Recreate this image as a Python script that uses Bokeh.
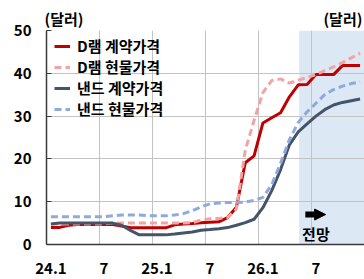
from bokeh.plotting import figure
from bokeh.models import FixedTicker, BoxAnnotation, Label, Arrow, NormalHead
from bokeh.embed import file_html
from bokeh.resources import INLINE

# Monthly data, 24.1 .. 26.12 (36 months), dollars
months = ["24.1", "24.2", "24.3", "24.4", "24.5", "24.6", "24.7", "24.8", "24.9", "24.10", "24.11", "24.12",
          "25.1", "25.2", "25.3", "25.4", "25.5", "25.6", "25.7", "25.8", "25.9", "25.10", "25.11", "25.12",
          "26.1", "26.2", "26.3", "26.4", "26.5", "26.6", "26.7", "26.8", "26.9", "26.10", "26.11", "26.12"]

dram_contract = [4.0, 4.0, 4.5, 4.65, 4.65, 4.65, 4.65, 4.65, 4.3, 3.9, 3.9, 3.9,
                 3.9, 3.9, 4.6, 4.8, 4.9, 5.1, 5.2, 5.3, 6.3, 8.7, 19.1, 20.7,
                 28.4, 29.6, 30.8, 34.5, 37.3, 37.4, 39.7, 39.7, 39.7, 41.8, 41.8, 41.8]
dram_spot = [4.8, 4.8, 4.8, 4.8, 4.8, 4.8, 4.8, 5.0, 5.0, 5.0, 5.0, 5.0,
             5.0, 5.0, 5.0, 5.0, 5.1, 5.7, 6.0, 6.1, 6.3, 8.3, 22.0, 29.0,
             35.5, 38.3, 38.7, 37.7, 38.4, 39.0, 39.7, 40.6, 41.5, 42.5, 43.6, 44.7]
nand_contract = [4.8, 5.0, 5.0, 5.0, 5.0, 5.0, 5.0, 5.0, 4.5, 3.3, 2.25, 2.25,
                 2.25, 2.25, 2.45, 2.7, 2.9, 3.35, 3.5, 3.7, 3.95, 4.5, 5.1, 5.9,
                 8.6, 12.6, 17.5, 23.3, 26.3, 28.2, 30.0, 31.5, 32.6, 33.2, 33.6, 34.0]
nand_spot = [6.5, 6.5, 6.5, 6.5, 6.5, 6.5, 6.5, 6.7, 6.9, 6.9, 6.9, 6.7,
             6.7, 6.7, 6.9, 7.2, 7.9, 8.8, 9.5, 9.7, 9.8, 9.8, 9.9, 10.3,
             11.0, 14.0, 19.0, 24.5, 28.5, 31.0, 33.0, 35.0, 36.2, 37.0, 37.6, 38.0]

tick_labels = ["24.1", "7", "25.1", "7", "26.1", "7"]
tick_months = [0, 6, 12, 18, 24, 30]
y_ticks = [0, 10, 20, 30, 40, 50]
forecast_start = 28.6
unit_text = "(달러)"

FONT = "Noto Sans CJK KR"
xs = [i + 0.5 for i in range(len(months))]

p = figure(width=364, height=279, x_range=(0, 36), y_range=(0, 50),
           output_backend="svg", toolbar_location=None,
           min_border_left=46, min_border_right=0, min_border_top=30, min_border_bottom=35)
p.outline_line_color = None
p.background_fill_color = "white"

# unit labels (left and right) in the title row
p.title.text = unit_text + "\u3000" * 16 + unit_text
p.title.align = "left"
p.title.offset = -2
p.title.standoff = 3
p.title.text_font = FONT
p.title.text_font_style = "bold"
p.title.text_font_size = "15px"
p.title.text_color = "black"

p.add_layout(BoxAnnotation(left=forecast_start, fill_color="#dde8f5", fill_alpha=1.0,
                           line_color=None, level="image"))

p.line(xs, dram_contract, line_color="#c00000", line_width=3, legend_label="D램 계약가격")
p.line(xs, dram_spot, line_color="#f2a3a3", line_width=3, line_dash="7 4", legend_label="D램 현물가격")
p.line(xs, nand_contract, line_color="#44546a", line_width=3, legend_label="낸드 계약가격")
p.line(xs, nand_spot, line_color="#8eaadc", line_width=3, line_dash="7 4", legend_label="낸드 현물가격")

# axes
xa = p.xaxis[0]
xa.ticker = FixedTicker(ticks=[m + 0.5 for m in tick_months])
xa.major_label_overrides = {m + 0.5: lab for m, lab in zip(tick_months, tick_labels)}
xa.major_tick_line_color = None
xa.minor_tick_line_color = None
xa.axis_line_color = "#3a3a3a"
xa.axis_line_width = 1.5
xa.major_label_text_font = FONT
xa.major_label_text_font_style = "bold"
xa.major_label_text_font_size = "15px"
xa.major_label_text_color = "black"
xa.major_label_standoff = 12

ya = p.yaxis[0]
ya.ticker = FixedTicker(ticks=y_ticks)
ya.major_tick_in = 5
ya.major_tick_out = 0
ya.major_tick_line_color = "#3a3a3a"
ya.minor_tick_line_color = None
ya.axis_line_color = "#3a3a3a"
ya.axis_line_width = 1.5
ya.major_label_text_font = FONT
ya.major_label_text_font_style = "bold"
ya.major_label_text_font_size = "15px"
ya.major_label_text_color = "black"
ya.major_label_standoff = 15

p.xgrid.ticker = FixedTicker(ticks=tick_months)
p.ygrid.ticker = FixedTicker(ticks=y_ticks)
p.xgrid.grid_line_color = "#c3c3c3"
p.ygrid.grid_line_color = "#c3c3c3"
p.xgrid.grid_line_width = 1
p.ygrid.grid_line_width = 1

# legend
lg = p.legend[0]
lg.location = (8, 125)
lg.background_fill_alpha = 0
lg.border_line_alpha = 0
lg.padding = 0
lg.margin = 0
lg.spacing = 0
lg.glyph_width = 16
lg.glyph_height = 18
lg.label_height = 18
lg.label_text_line_height = 0.9
lg.label_standoff = 7
lg.label_text_font = FONT
lg.label_text_font_style = "bold"
lg.label_text_font_size = "15px"
lg.label_text_color = "black"

# forecast marker
p.add_layout(Arrow(end=NormalHead(size=11, fill_color="black", line_color="black"),
                   x_start=29.3, y_start=7.0, x_end=31.6, y_end=7.0,
                   line_width=6, line_color="black"))
p.add_layout(Label(x=30.5, y=2.6, text="전망", text_font=FONT, text_font_style="bold",
                   text_font_size="15px", text_align="center", text_baseline="middle",
                   text_color="black"))

open("out.html", "w").write(file_html(p, INLINE))
